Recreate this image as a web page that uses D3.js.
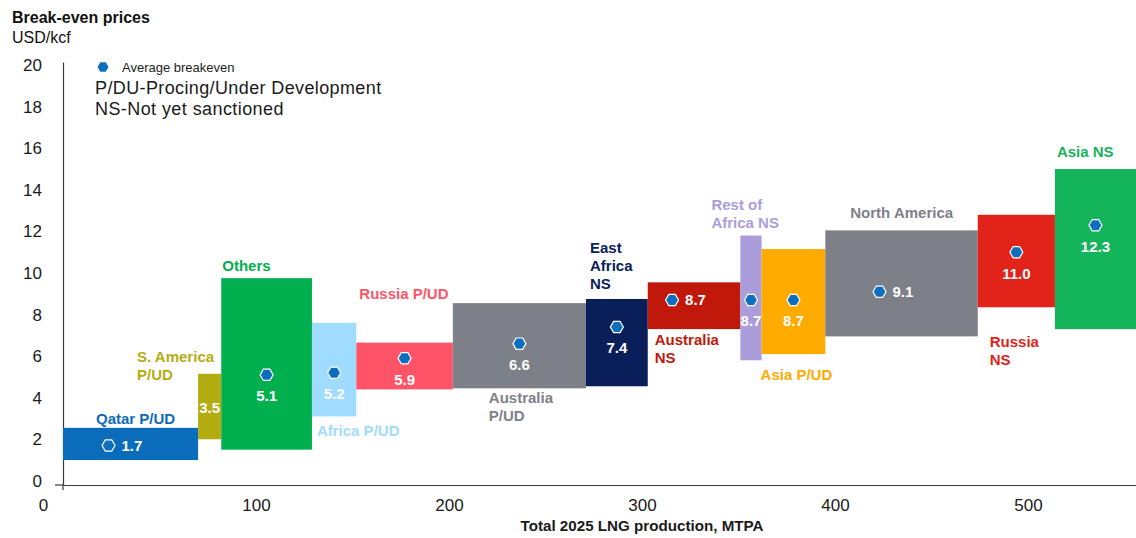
<!DOCTYPE html>
<html>
<head>
<meta charset="utf-8">
<script src="https://cdn.jsdelivr.net/npm/d3@7"></script>
<style>
  html, body { margin: 0; padding: 0; background: #fff; }
  svg { display: block; font-family: "Liberation Sans", Arial, Helvetica, sans-serif; }
</style>
</head>
<body>
<svg id="chart" width="1136" height="538"></svg>
<script>
// LNG supply segments: production volume (MTPA), break-even range and average (USD/kcf)
const categories = ["Qatar P/UD", "S. America P/UD", "Others", "Africa P/UD", "Russia P/UD",
  "Australia P/UD", "East Africa NS", "Australia NS", "Rest of Africa NS", "Asia P/UD",
  "North America", "Russia NS", "Asia NS"];
const production = [70, 12, 47, 23, 50, 69, 32, 48, 11, 33, 79, 40, 42];
const lowPrice  = [1.0, 2.0, 1.5, 3.1, 4.4, 4.45, 4.55, 7.3, 5.8, 6.1, 6.95, 8.35, 7.3];
const highPrice = [2.55, 5.15, 9.75, 7.6, 6.65, 8.55, 8.75, 9.55, 11.8, 11.15, 12.05, 12.8, 15.0];
const avgPrice  = [1.7, 3.5, 5.1, 5.2, 5.9, 6.6, 7.4, 8.7, 8.7, 8.7, 9.1, 11.0, 12.3];
const xTicks = [0, 100, 200, 300, 400, 500];
const yTicks = [0, 2, 4, 6, 8, 10, 12, 14, 16, 18, 20];

// Presentation: colours, label wrapping and label placement for each segment
const colors = ["#0c6cbc", "#b3ad12", "#00af4d", "#a0dcff", "#ff5468", "#7e8089",
  "#0a1e5a", "#c0190b", "#ab9ddc", "#ffab00", "#7e8089", "#e2231a", "#14b45a"];
const labelLayout = [
  { lines: ["Qatar P/UD"],            side: "top",    dx: 33,  dy: 4 },
  { lines: ["S. America", "P/UD"],    side: "top",    dx: -61, dy: -6.5 },
  { lines: ["Others"],                side: "top",    dx: 1,   dy: 7.5 },
  { lines: ["Africa P/UD"],           side: "bottom", dx: 5,   dy: 19.5 },
  { lines: ["Russia P/UD"],           side: "top",    dx: 3,   dy: 43.5 },
  { lines: ["Australia", "P/UD"],     side: "bottom", dx: 36,  dy: 14.5 },
  { lines: ["East", "Africa", "NS"],  side: "top",    dx: 4,   dy: 9.5 },
  { lines: ["Australia", "NS"],       side: "bottom", dx: 7,   dy: 15.5 },
  { lines: ["Rest of", "Africa NS"],  side: "top",    dx: -29, dy: 7.5 },
  { lines: ["Asia P/UD"],             side: "bottom", dx: -1,  dy: 25.5 },
  { lines: ["North America"],         side: "top",    dx: 25,  dy: 12.5 },
  { lines: ["Russia", "NS"],          side: "bottom", dx: 12,  dy: 39.5 },
  { lines: ["Asia NS"],               side: "top",    dx: 2,   dy: 12.5 }
];
// how the average value sits next to its marker: below it, to its right, or no marker
const valuePlacement = ["right", "none", "below", "below", "below", "below", "below",
  "right", "below", "below", "right", "below", "below"];

const markerBlue = "#0d6ebd";
const lineH = 18;

const svg = d3.select("#chart");

const x = d3.scaleLinear().domain([0, 556]).range([63, 1136]);
const y = d3.scaleLinear().domain([-0.2, 20.15]).range([485, 62]);

// cumulative start/end of each segment along the production axis
const starts = [];
let acc = 0;
production.forEach(p => { starts.push(acc); acc += p; });
const segs = categories.map((c, i) => ({
  name: c, x0: starts[i], x1: starts[i] + production[i],
  lo: lowPrice[i], hi: highPrice[i], avg: avgPrice[i],
  color: colors[i], layout: labelLayout[i], place: valuePlacement[i]
}));

// flat-topped hexagon centred on the origin
function hexPath(r) {
  const pts = d3.range(6).map(k => {
    const a = Math.PI / 3 * k;
    return [r * Math.cos(a), r * Math.sin(a)];
  });
  return "M" + pts.map(p => p.join(",")).join("L") + "Z";
}

// Titles
svg.append("text").attr("x", 12).attr("y", 23)
  .attr("font-size", 16).attr("font-weight", "bold").attr("fill", "#111")
  .text("Break-even prices");
svg.append("text").attr("x", 12).attr("y", 43)
  .attr("font-size", 16).attr("fill", "#111")
  .text("USD/kcf");

// Axes
const yAxis = svg.append("g").attr("transform", "translate(63,0)")
  .call(d3.axisLeft(y).tickValues(yTicks).tickSize(0).tickSizeOuter(0).tickPadding(21));
yAxis.select(".domain").attr("stroke", "#3a3a3a").attr("stroke-width", 1.2);
yAxis.selectAll("text").attr("font-size", 17).attr("fill", "#1a1a1a")
  .attr("font-family", "\"Liberation Sans\", Arial, sans-serif");

const xAxis = svg.append("g").attr("transform", "translate(0,485)")
  .call(d3.axisBottom(x).tickValues(xTicks).tickSize(0).tickSizeOuter(0).tickPadding(14));
xAxis.select(".domain").attr("stroke", "#3a3a3a").attr("stroke-width", 1.2);
xAxis.selectAll("text").attr("font-size", 17).attr("fill", "#1a1a1a")
  .attr("font-family", "\"Liberation Sans\", Arial, sans-serif")
  .attr("dx", d => d === 0 ? -20 : 0);
// small cross at the origin
svg.append("line").attr("x1", 55).attr("x2", 63).attr("y1", 485).attr("y2", 485)
  .attr("stroke", "#3a3a3a").attr("stroke-width", 1.2);
svg.append("line").attr("x1", 63).attr("x2", 63).attr("y1", 485).attr("y2", 490)
  .attr("stroke", "#3a3a3a").attr("stroke-width", 1.2);

svg.append("text").attr("x", 642).attr("y", 531).attr("text-anchor", "middle")
  .attr("font-size", 14).attr("font-weight", "bold").attr("fill", "#1a1a1a")
  .attr("textLength", 243).attr("lengthAdjust", "spacingAndGlyphs")
  .text("Total 2025 LNG production, MTPA");

// Bars
svg.append("g").selectAll("rect").data(segs).join("rect")
  .attr("x", d => x(d.x0))
  .attr("width", d => x(d.x1) - x(d.x0))
  .attr("y", d => y(d.hi))
  .attr("height", d => y(d.lo) - y(d.hi))
  .attr("fill", d => d.color);

// Category labels
const labels = svg.append("g").attr("font-size", 15).attr("font-weight", "bold");
segs.forEach(d => {
  const L = d.layout;
  const n = L.lines.length;
  const firstBaseline = L.side === "top"
    ? y(d.hi) - L.dy - (n - 1) * lineH
    : y(d.lo) + L.dy;
  const t = labels.append("text").attr("fill", d.color);
  L.lines.forEach((ln, k) => {
    t.append("tspan").attr("x", x(d.x0) + L.dx).attr("y", firstBaseline + k * lineH).text(ln);
  });
});

// Average markers and values
const avgG = svg.append("g");
segs.forEach(d => {
  const cx = (x(d.x0) + x(d.x1)) / 2;
  const cy = y(d.avg);
  const label = d.avg.toFixed(1);
  if (d.place === "none") {
    avgG.append("text").attr("x", cx).attr("y", cy).attr("dy", "0.35em")
      .attr("text-anchor", "middle").attr("font-size", 15).attr("font-weight", "bold")
      .attr("fill", "#fff").text(label);
    return;
  }
  const mx = d.place === "right" ? cx - 22 : cx;
  avgG.append("path").attr("d", hexPath(6.5))
    .attr("transform", `translate(${mx},${cy})`)
    .attr("fill", markerBlue).attr("stroke", "#fff").attr("stroke-width", 1.2);
  const t = avgG.append("text").attr("font-size", 15).attr("font-weight", "bold")
    .attr("fill", "#fff").text(label);
  if (d.place === "right") {
    t.attr("x", mx + 13).attr("y", cy).attr("dy", "0.36em");
  } else {
    t.attr("x", mx).attr("y", cy + 21).attr("dy", "0.36em").attr("text-anchor", "middle");
  }
});

// Legend and notes
svg.append("path").attr("d", hexPath(5.5)).attr("transform", "translate(103,67)")
  .attr("fill", markerBlue);
svg.append("text").attr("x", 122).attr("y", 67).attr("dy", "0.35em")
  .attr("font-size", 13).attr("fill", "#222").text("Average breakeven");
svg.append("text").attr("x", 95).attr("y", 94).attr("letter-spacing", 0.38)
  .attr("font-size", 18).attr("fill", "#1a1a1a").text("P/DU-Procing/Under Development");
svg.append("text").attr("x", 95).attr("y", 115).attr("letter-spacing", 0.42)
  .attr("font-size", 18).attr("fill", "#1a1a1a").text("NS-Not yet sanctioned");
</script>
</body>
</html>
